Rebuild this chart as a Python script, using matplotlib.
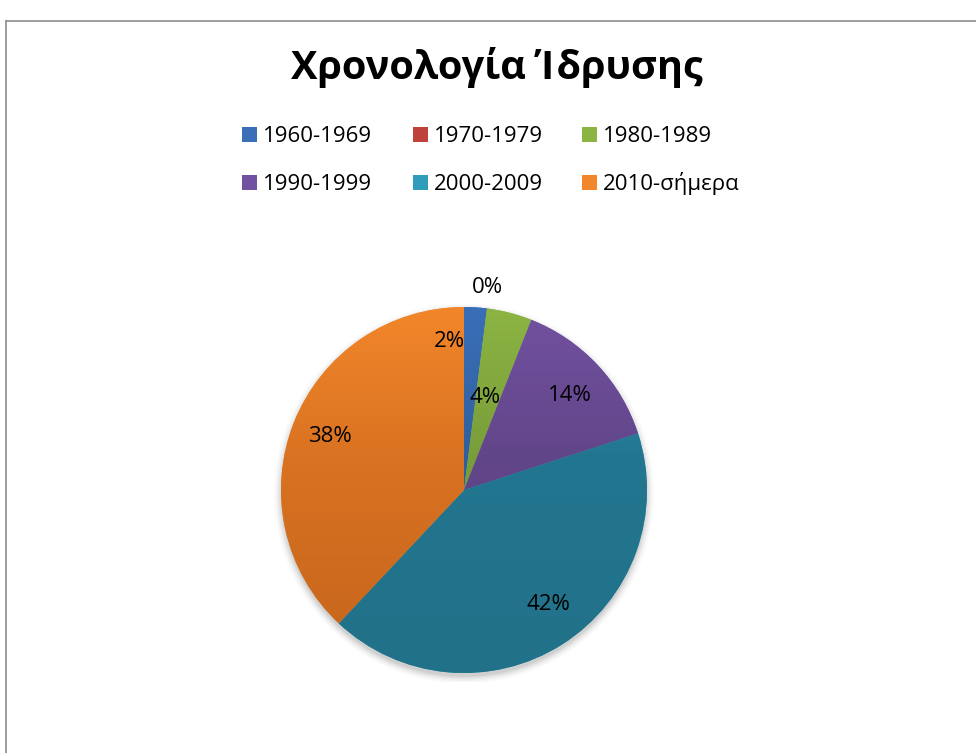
import matplotlib
matplotlib.use("Agg")
import matplotlib.pyplot as plt
import numpy as np
from matplotlib.colors import LinearSegmentedColormap
from matplotlib.patches import Rectangle, Circle
from matplotlib.lines import Line2D

# ---- data ----
title = "Χρονολογία Ίδρυσης"
categories = ["1960-1969", "1970-1979", "1980-1989", "1990-1999", "2000-2009", "2010-σήμερα"]
counts = [1, 0, 2, 7, 21, 19]
pct_labels = ["2%", "0%", "4%", "14%", "42%", "38%"]

# ---- style ----
top_colors = ["#3a6fb8", "#c0403c", "#8cb443", "#7251a0", "#2e9cba", "#f2862a"]
mid_colors = ["#30609f", "#a8342f", "#7a9e3a", "#62468a", "#237690", "#da7322"]
bot_colors = ["#2b5791", "#952e2a", "#6c8d33", "#583e7c", "#217188", "#c4641c"]
# label positions in pie-radius units (layout)
label_pos = [(-0.082, 0.814), (0.126, 1.104), (0.115, 0.508), (0.579, 0.514),
             (0.459, -0.628), (-0.732, 0.290)]

FONT = ["Open Sans", "DejaVu Sans"]
plt.rcParams["font.family"] = FONT

W, H = 976, 753
fig = plt.figure(figsize=(W / 100, H / 100), dpi=100)
fig.patch.set_facecolor("white")

# frame lines
fig.add_artist(Line2D([6 / W, 6 / W], [0, 1 - 21 / H], color="#8c8c8c", lw=1.2))
fig.add_artist(Line2D([6 / W, 1], [1 - 21 / H, 1 - 21 / H], color="#8c8c8c", lw=1.2))

cx, cy, R = 464, 490, 183
pad = 1.05
ax = fig.add_axes([(cx - R * pad) / W, (H - cy - R * pad) / H, 2 * pad * R / W, 2 * pad * R / H])
ax.set_aspect("equal")
ax.axis("off")

# soft shadow
for i, a in enumerate(np.linspace(0.05, 0.012, 6)):
    ax.add_patch(Circle((0, -0.02), 1.0 + 0.008 * i, color="black", alpha=a, lw=0, zorder=0))

wedges, _ = ax.pie(counts, startangle=90, counterclock=False, radius=1.0,
                   colors=top_colors, wedgeprops=dict(linewidth=0))
for w in wedges:
    w.set_zorder(1)

grad = np.linspace(1, 0, 256).reshape(-1, 1)
for w, c1, c2, c3 in zip(wedges, top_colors, mid_colors, bot_colors):
    cmap = LinearSegmentedColormap.from_list("g", [(0, c3), (0.6, c2), (1.0, c1)])
    im = ax.imshow(grad, extent=(-1, 1, -1, 1), cmap=cmap, vmin=0, vmax=1,
                   origin="upper", aspect="auto", zorder=2, interpolation="bilinear")
    im.set_clip_path(w)

for lab, (x, y) in zip(pct_labels, label_pos):
    ax.text(x, y, lab, ha="center", va="center", fontsize=16, color="black", zorder=5)

ax.set_xlim(-pad, pad)
ax.set_ylim(-pad, pad)

fig.text(497 / W, 1 - 68 / H, title, ha="center", va="center", fontsize=28.5,
         fontweight="bold", color="black")

# legend: 2 rows x 3 columns, row-major (layout grid in pixels, box centres)
col_x = [249, 420, 589]
row_y = [134, 182]
box = 15
for i, (cat, col) in enumerate(zip(categories, top_colors)):
    r, c = divmod(i, 3)
    x0, y0 = col_x[c], row_y[r]
    fig.add_artist(Rectangle(((x0 - box / 2) / W, 1 - (y0 + box / 2) / H), box / W, box / H,
                             facecolor=col, edgecolor="none", transform=fig.transFigure))
    fig.text((x0 + box / 2 + 6) / W, 1 - (y0 + 8) / H, cat, ha="left", va="baseline",
             fontsize=16, color="black")

fig.savefig("out.png", dpi=100, facecolor="white")
